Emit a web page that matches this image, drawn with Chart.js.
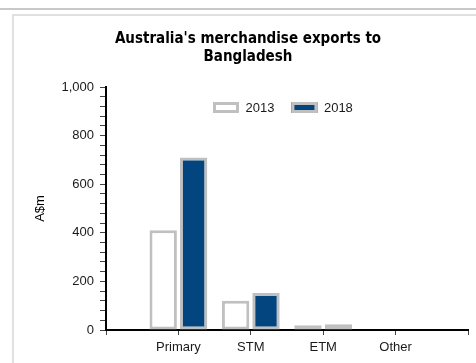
<!DOCTYPE html>
<html>
<head>
<meta charset="utf-8">
<script src="https://cdn.jsdelivr.net/npm/chart.js@4/dist/chart.umd.min.js"></script>
<style>
  body { margin: 0; background: #fff; }
  #wrap { position: relative; width: 476px; height: 363px; overflow: hidden; }
  .topline { position: absolute; left: 0; top: 8px; width: 476px; height: 2px; background: #c8c8c8; }
  .frame { position: absolute; left: 12px; top: 14px; width: 480px; height: 400px;
           border-left: 2px solid #e0e0e0; border-top: 2px solid #e0e0e0; }
  canvas { position: absolute; left: 0; top: 0; }
</style>
</head>
<body>
<div id="wrap">
  <div class="topline"></div>
  <div class="frame"></div>
  <canvas id="chart" width="476" height="363"></canvas>
</div>
<script>
// Chart data
const categories = ['Primary', 'STM', 'ETM', 'Other'];
const seriesNames = ['2013', '2018'];
const exports2013 = [410, 120, 20, 0];
const exports2018 = [710, 152, 24, 0];

const NAVY = '#02457f';
const GREY = '#c0c0c0';

Chart.defaults.color = '#1a1a1a';
Chart.defaults.font.family = '"Liberation Sans", Arial, sans-serif';
Chart.defaults.font.size = 13;

// categories sit at x = 1..4 on a 0..5 axis, so the axis runs past them on both ends
const toPoints = vals => vals.map((v, i) => ({ x: i + 1, y: v }));

// Legend drawn inside the plot, one row, centred near the top
const innerLegend = {
    id: 'innerLegend',
    afterDraw(chart) {
        const c = chart.ctx;
        const area = chart.chartArea;
        const boxW = 26, boxH = 11, gap = 6.5, itemGap = 17;
        c.save();
        c.font = '13px "Liberation Sans", Arial, sans-serif';
        c.textBaseline = 'middle';
        const items = chart.data.datasets.map(ds => ({
            ds, w: boxW + gap + c.measureText(ds.label).width
        }));
        const total = items.reduce((s, it) => s + it.w, 0) + itemGap * (items.length - 1);
        let x = Math.round((area.left + area.right) / 2 - total / 2 - 4);
        const y = area.top + 15;
        items.forEach(it => {
            const bw = it.ds.borderWidth;
            c.fillStyle = it.ds.backgroundColor;
            c.fillRect(x, y, boxW, boxH);
            c.strokeStyle = it.ds.borderColor;
            c.lineWidth = bw;
            c.strokeRect(x + bw / 2, y + bw / 2, boxW - bw, boxH - bw);
            c.fillStyle = '#1a1a1a';
            c.fillText(it.ds.label, x + boxW + gap, y + boxH / 2 + 0.5);
            x += it.w + itemGap;
        });
        c.restore();
    }
};

const ctx = document.getElementById('chart').getContext('2d');
new Chart(ctx, {
    type: 'bar',
    data: {
        datasets: [
            {
                label: seriesNames[0],
                data: toPoints(exports2013),
                backgroundColor: '#ffffff',
                borderColor: GREY,
                borderWidth: 3,
                borderSkipped: false
            },
            {
                label: seriesNames[1],
                data: toPoints(exports2018),
                backgroundColor: NAVY,
                borderColor: GREY,
                borderWidth: 3,
                borderSkipped: false
            }
        ]
    },
    options: {
        responsive: false,
        animation: false,
        categoryPercentage: 0.84,
        barPercentage: 0.9,
        layout: { padding: { left: 28, right: 8, top: 0, bottom: 0 } },
        plugins: {
            title: {
                display: true,
                text: ["Australia's merchandise exports to", 'Bangladesh'],
                color: '#000',
                font: { family: '"DejaVu Sans Condensed", "DejaVu Sans", sans-serif', size: 15, weight: 'bold' },
                padding: { top: 30, bottom: 21 }
            },
            legend: { display: false },
            tooltip: { enabled: false }
        },
        scales: {
            x: {
                type: 'linear',
                min: 0,
                max: 5,
                offset: false,
                afterFit: s => { s.height = 33; },
                border: { color: '#000', width: 2 },
                grid: { offset: false, drawOnChartArea: false, tickLength: 5, tickColor: '#444' },
                ticks: {
                    stepSize: 1,
                    autoSkip: false,
                    maxRotation: 0,
                    padding: 5,
                    callback: v => categories[v - 1] || ''
                }
            },
            y: {
                min: 0,
                max: 1000,
                afterFit: s => { s.width = 78; },
                border: { color: '#000', width: 2 },
                grid: { drawOnChartArea: false, tickLength: 6, tickColor: '#444' },
                ticks: {
                    stepSize: 40,
                    autoSkip: false,
                    padding: 6,
                    callback: v => (v % 200 === 0 ? v.toLocaleString('en-US') : '')
                },
                title: {
                    display: true,
                    text: 'A$m',
                    color: '#000',
                    font: { size: 13 },
                    padding: { top: 5 }
                }
            }
        }
    },
    plugins: [innerLegend]
});
</script>
</body>
</html>
